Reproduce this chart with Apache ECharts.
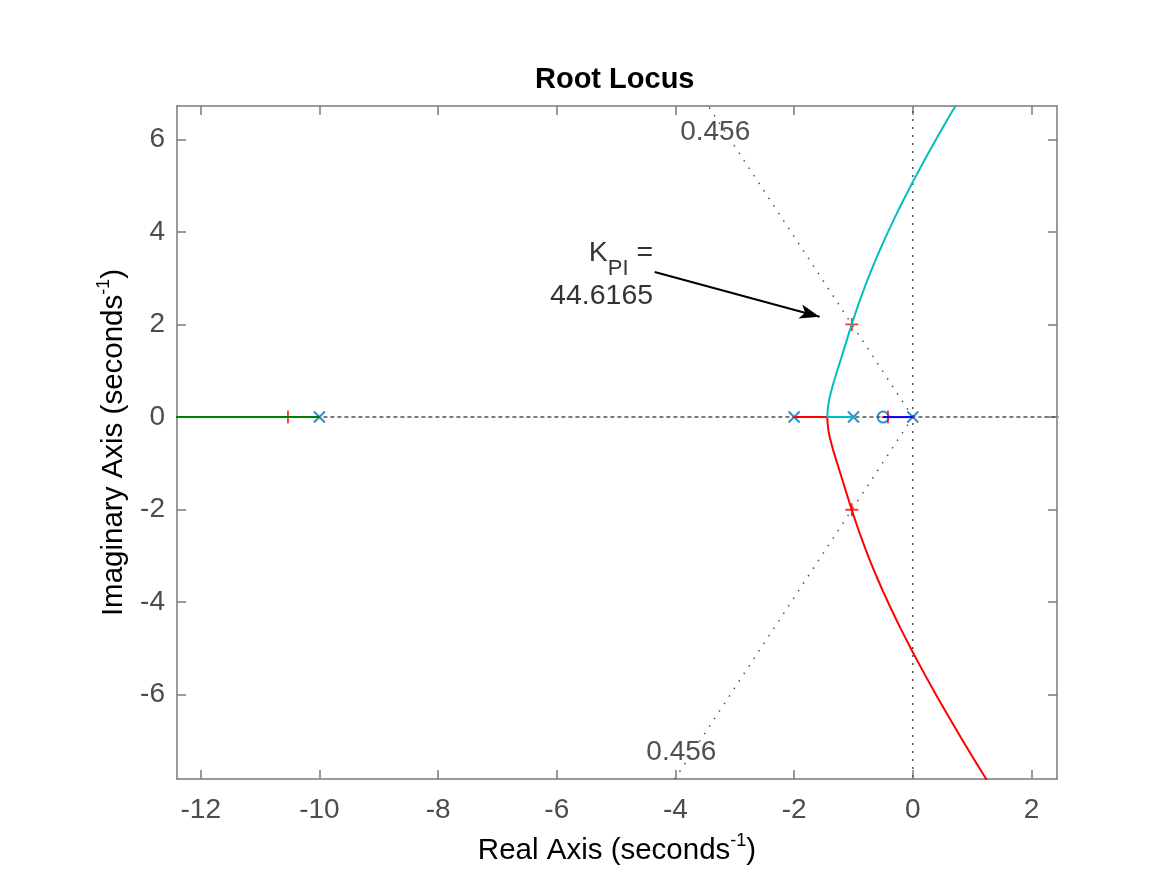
<!DOCTYPE html>
<html>
<head>
<meta charset="utf-8">
<script src="https://cdn.jsdelivr.net/npm/echarts@6/dist/echarts.min.js"></script>
<style>
html,body{margin:0;padding:0;background:#fff;}
#chart{width:1167px;height:875px;}
</style>
</head>
<body>
<div id="chart"></div>
<script>
// ---- data ----
const xTicks = [-12, -10, -8, -6, -4, -2, 0, 2];
const yTicks = [-6, -4, -2, 0, 2, 4, 6];
const xRange = [-12.4, 2.43];
const yRange = [-7.83, 6.73];

const openLoopPoles = [[-10, 0], [-2, 0], [-1, 0], [0, 0]];
const openLoopZeros = [[-0.5, 0]];
const closedLoopPoles = [[-10.53, 0], [-0.418, 0], [-1.027, 2.005], [-1.027, -2.005]];

const cyanBranch = [[-1, 0], [-1.4401, 0], [-1.4395, 0.052], [-1.4385, 0.085], [-1.435, 0.152],
  [-1.42, 0.3045], [-1.4, 0.4365], [-1.35, 0.6824], [-1.3, 0.8932], [-1.2, 1.3031], [-1.1, 1.7189],
  [-1.0, 2.1213], [-0.9, 2.4974], [-0.8, 2.8469], [-0.7, 3.1737], [-0.6, 3.4819], [-0.5, 3.7749],
  [-0.4, 4.0554], [-0.3, 4.3255], [-0.2, 4.5868], [0, 5.088], [0.2, 5.5663], [0.4, 6.0271],
  [0.6, 6.474], [0.8, 6.9096], [1.0, 7.3358], [1.2, 7.7541], [1.3, 7.9607]];
const redBranch = [[-2, 0], [-1.4401, 0], [-1.4395, -0.052], [-1.4385, -0.085], [-1.435, -0.152],
  [-1.42, -0.3045], [-1.4, -0.4365], [-1.35, -0.6824], [-1.3, -0.8932], [-1.2, -1.3031], [-1.1, -1.7189],
  [-1.0, -2.1213], [-0.9, -2.4974], [-0.8, -2.8469], [-0.7, -3.1737], [-0.6, -3.4819], [-0.5, -3.7749],
  [-0.4, -4.0554], [-0.3, -4.3255], [-0.2, -4.5868], [0, -5.088], [0.2, -5.5663], [0.4, -6.0271],
  [0.6, -6.474], [0.8, -6.9096], [1.0, -7.3358], [1.2, -7.7541], [1.3, -7.9607]];
const blueBranch = [[0, 0], [-0.5, 0]];
const greenBranch = [[-10, 0], [-13, 0]];

const realAxisGrid = [[-13, 0], [3, 0]];
const imagAxisGrid = [[0, -9], [0, 8]];
const dampUpper = [[0, 0], [-5, 9.76]];
const dampLower = [[0, 0], [-5, -9.76]];
const dampLabels = [[-3.33, 6.16, '0.456'], [-3.9, -7.25, '0.456']];

const arrowStart = [-4.35, 3.14];
const arrowEnd = [-1.57, 2.17];
const annotationAnchor = [-4.377, 3.09];
const gainText = '44.6165';

// ---- chart ----
const FONT = '"Liberation Sans", Arial, Helvetica, sans-serif';
const axisGray = '#7a7a7a';
const tickGray = '#4d4d4d';
const chart = echarts.init(document.getElementById('chart'), null, {renderer: 'canvas'});

function xAx(pos, showLabel) {
  return {
    type: 'value', position: pos, min: xRange[0], max: xRange[1],
    axisLine: {show: true, onZero: false, lineStyle: {color: axisGray, width: 1.5}},
    axisTick: {show: true, inside: true, length: 9, lineStyle: {color: axisGray, width: 1.5}, customValues: xTicks},
    axisLabel: {show: showLabel, customValues: xTicks, margin: 17, fontSize: 28, fontFamily: FONT, color: tickGray},
    splitLine: {show: false}
  };
}
function yAx(pos, showLabel) {
  return {
    type: 'value', position: pos, min: yRange[0], max: yRange[1],
    axisLine: {show: true, onZero: false, lineStyle: {color: axisGray, width: 1.5}},
    axisTick: {show: true, inside: true, length: 9, lineStyle: {color: axisGray, width: 1.5}, customValues: yTicks},
    axisLabel: {show: showLabel, customValues: yTicks, margin: 12, fontSize: 28, fontFamily: FONT, color: tickGray},
    splitLine: {show: false}
  };
}

const nameRich = {
  m: {fontSize: 29.5, fontFamily: FONT, color: '#000', lineHeight: 34, verticalAlign: 'bottom'},
  s: {fontSize: 18, fontFamily: FONT, color: '#000', lineHeight: 25, verticalAlign: 'top'}
};

const xMain = xAx('bottom', true);
xMain.name = '{m|Real Axis (seconds}{s|-1}{m|)}';
xMain.nameLocation = 'middle';
xMain.nameGap = 53;
xMain.nameTextStyle = {rich: nameRich};

const yMain = yAx('left', true);
yMain.name = '{m|Imaginary Axis (seconds}{s|-1}{m|)}';
yMain.nameLocation = 'middle';
yMain.nameRotate = 90;
yMain.nameGap = 42;
yMain.nameTextStyle = {rich: nameRich};

function lineSeries(data, color, width, type) {
  return {
    type: 'line', data: data, xAxisIndex: 0, yAxisIndex: 0, showSymbol: false, symbol: 'none',
    smooth: false, clip: true, silent: true,
    lineStyle: {color: color, width: width, type: type || 'solid'}
  };
}

const gridDot = '#505050';

const option = {
  animation: false,
  backgroundColor: '#fff',
  title: {
    text: 'Root Locus', left: 530, top: 60,
    textStyle: {fontSize: 29, fontWeight: 'bold', fontFamily: FONT, color: '#000'}
  },
  grid: {left: 177, right: 110, top: 106, bottom: 96, containLabel: false},
  xAxis: [xMain, xAx('top', false)],
  yAxis: [yMain, yAx('right', false)],
  series: [
    lineSeries(realAxisGrid, gridDot, 1.5, [4, 3]),
    lineSeries(imagAxisGrid, gridDot, 1.5, [2, 6]),
    lineSeries(dampUpper, gridDot, 1.5, [1.5, 7.5]),
    lineSeries(dampLower, gridDot, 1.5, [1.5, 7.5]),
    lineSeries(greenBranch, '#008000', 2),
    lineSeries(redBranch, '#ff0000', 2),
    lineSeries(cyanBranch, '#00bfbf', 2),
    lineSeries(blueBranch, '#0000ff', 2),
    {
      type: 'scatter', data: dampLabels, silent: true, symbolSize: 0,
      label: {show: true, position: 'inside', formatter: p => p.data[2], fontSize: 28, fontFamily: FONT, color: '#262626'}
    },
    {
      type: 'scatter', data: openLoopPoles, silent: true, symbol: 'path://M0 0L10 10M10 0L0 10', symbolSize: 11,
      itemStyle: {color: 'transparent', borderColor: '#0072bd', borderWidth: 2}
    },
    {
      type: 'scatter', data: openLoopZeros, silent: true, symbol: 'circle', symbolSize: 11,
      itemStyle: {color: 'transparent', borderColor: '#0072bd', borderWidth: 2}
    },
    {
      type: 'scatter', data: closedLoopPoles, silent: true, symbol: 'path://M5 0L5 10M0 5L10 5', symbolSize: 13,
      itemStyle: {color: 'transparent', borderColor: '#ff0000', borderWidth: 1.8}
    },
    {
      type: 'scatter', data: [annotationAnchor], silent: true, symbolSize: 0,
      label: {
        show: true, position: 'left', distance: 0, align: 'right',
        formatter: '{k|K}{sub|PI}{k| =}\n{n|' + gainText + '}',
        rich: {
          k: {fontSize: 28.5, fontFamily: FONT, color: '#000', lineHeight: 32, verticalAlign: 'top', align: 'right'},
          sub: {fontSize: 22, fontFamily: FONT, color: '#000', lineHeight: 22, verticalAlign: 'top', padding: [20, 0, 0, 0], align: 'right'},
          n: {fontSize: 28.5, fontFamily: FONT, color: '#000', lineHeight: 40, verticalAlign: 'bottom', align: 'right'}
        }
      },
      markLine: {
        silent: true, symbol: ['none', 'arrow'], symbolSize: [11, 20], animation: false,
        lineStyle: {color: '#000', width: 2, type: 'solid'},
        label: {show: false},
        data: [[{coord: arrowStart}, {coord: arrowEnd}]]
      }
    }
  ]
};
chart.setOption(option);
</script>
</body>
</html>
